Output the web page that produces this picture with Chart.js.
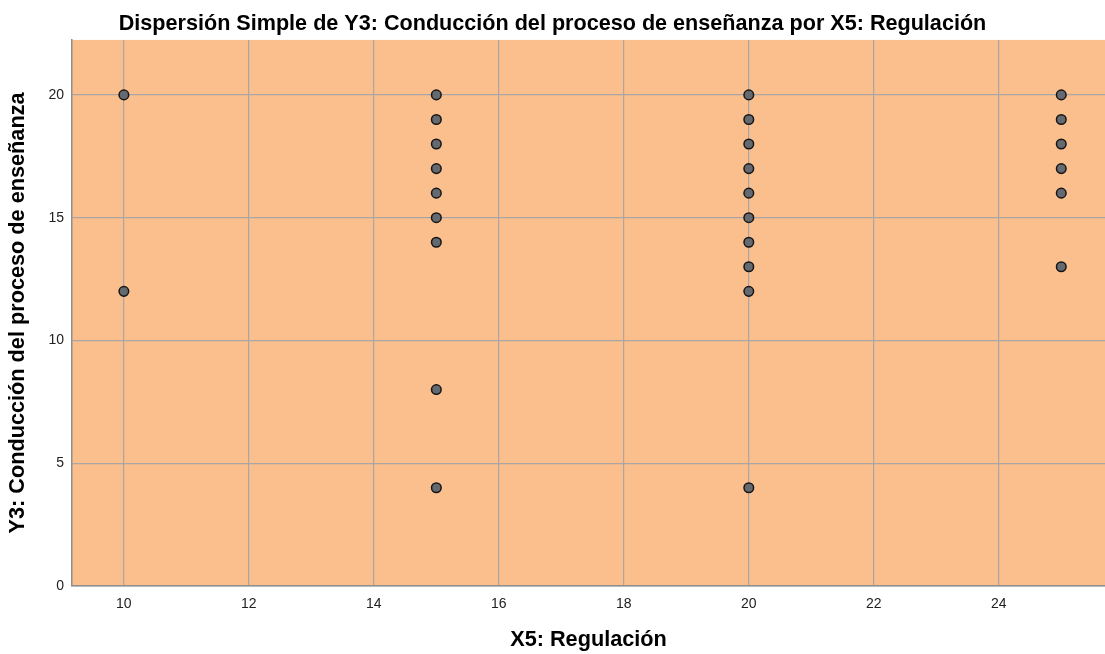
<!DOCTYPE html>
<html>
<head>
<meta charset="utf-8">
<script src="https://cdn.jsdelivr.net/npm/chart.js@4.4.1/dist/chart.umd.min.js"></script>
<style>
html,body{margin:0;padding:0;background:#fff;}
#wrap{width:1105px;height:654px;}
</style>
</head>
<body>
<div id="wrap"><canvas id="c" width="1105" height="654"></canvas></div>
<script>
// Data
const xCategories = [10, 15, 20, 25];
const yAt10 = [20, 12];
const yAt15 = [20, 19, 18, 17, 16, 15, 14, 8, 4];
const yAt20 = [20, 19, 18, 17, 16, 15, 14, 13, 12, 4];
const yAt25 = [20, 19, 18, 17, 16, 13];
const xTicks = [10, 12, 14, 16, 18, 20, 22, 24];
const yTicks = [0, 5, 10, 15, 20];

const titleText = 'Dispersión Simple de Y3: Conducción del proceso de enseñanza por X5: Regulación';
const xTitle = 'X5: Regulación';
const yTitle = 'Y3: Conducción del proceso de enseñanza';

const groups = [yAt10, yAt15, yAt20, yAt25];
const points = [];
groups.forEach((ys, i) => ys.forEach(y => points.push({x: xCategories[i], y: y})));

const bgPlugin = {
  id: 'bg',
  beforeDraw(chart) {
    const {ctx, chartArea: a} = chart;
    ctx.save();
    ctx.fillStyle = 'rgb(251,191,142)';
    ctx.fillRect(a.left, a.top, a.right - a.left, a.bottom - a.top);
    ctx.restore();
  }
};

const FONT = "'Liberation Sans', Arial, sans-serif";
const GRID = '#aba6a3';

new Chart(document.getElementById('c'), {
  type: 'scatter',
  data: {
    datasets: [{
      data: points,
      pointRadius: 4.8,
      pointHoverRadius: 4.8,
      pointBackgroundColor: '#656a70',
      pointBorderColor: '#151515',
      pointBorderWidth: 1.5
    }]
  },
  options: {
    responsive: false,
    animation: false,
    layout: {autoPadding: false, padding: {left: 0, right: 0, top: 0, bottom: 0}},
    plugins: {
      legend: {display: false},
      tooltip: {enabled: false},
      title: {
        display: true,
        text: titleText,
        color: '#000',
        font: {family: FONT, size: 21.6, weight: 'bold', lineHeight: 1.2},
        padding: {top: 11, bottom: 3}
      }
    },
    scales: {
      x: {
        type: 'linear',
        min: 9.17,
        max: 25.7,
        afterBuildTicks(s) { s.ticks = xTicks.map(v => ({value: v})); },
        afterFit(s) { s.height = 68; s.paddingLeft = 0; s.paddingRight = 0; },
        ticks: {color: '#222', font: {family: FONT, size: 14}, padding: 10},
        grid: {color: GRID, lineWidth: 1.2, drawTicks: false},
        border: {color: '#8e8e8e', width: 1.5},
        title: {
          display: true, text: xTitle, color: '#000',
          font: {family: FONT, size: 21.7, weight: 'bold', lineHeight: 1.2},
          padding: {top: 0, bottom: 0.5}
        }
      },
      y: {
        type: 'linear',
        min: 0,
        max: 22.24,
        afterBuildTicks(s) { s.ticks = yTicks.map(v => ({value: v})); },
        afterFit(s) { s.width = 72; s.paddingTop = 0; s.paddingBottom = 0; },
        ticks: {color: '#222', font: {family: FONT, size: 14}, padding: 8},
        grid: {color: GRID, lineWidth: 1.2, drawTicks: false},
        border: {color: '#8e8e8e', width: 1.5},
        title: {
          display: true, text: yTitle, color: '#000',
          font: {family: FONT, size: 21.7, weight: 'bold', lineHeight: 1.2},
          padding: {top: 5, bottom: 0}
        }
      }
    }
  },
  plugins: [bgPlugin]
});
</script>
</body>
</html>
